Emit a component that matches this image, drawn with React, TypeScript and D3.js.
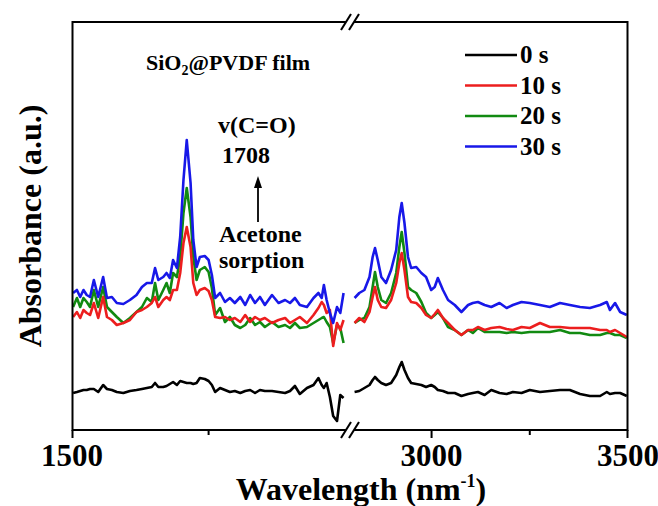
import React from "react";
import * as d3 from "d3";

// ---- data ----
const leftWavenumbers = [
  1502, 1509, 1515, 1521, 1527, 1533, 1540, 1548, 1557, 1564,
  1573, 1582, 1594, 1606, 1618, 1628, 1637, 1646, 1652, 1658,
  1667, 1673, 1679, 1685, 1692, 1698, 1704, 1710, 1717, 1722,
  1728, 1734, 1743, 1750, 1756, 1762, 1771, 1780, 1789, 1798,
  1808, 1817, 1826, 1835, 1844, 1853, 1866, 1878, 1890, 1899,
  1908, 1917, 1930, 1942, 1951, 1957, 1961, 1966, 1972, 1978,
  1985, 1991, 1997,
];
const rightWavenumbers = [
  2804, 2816, 2829, 2842, 2850, 2856, 2863, 2872, 2884, 2897,
  2910, 2918, 2924, 2931, 2940, 2948, 2961, 2974, 2986, 2999,
  3008, 3016, 3029, 3042, 3059, 3076, 3093, 3105, 3118, 3135,
  3152, 3173, 3191, 3207, 3229, 3250, 3276, 3301, 3327, 3352,
  3378, 3403, 3429, 3446, 3454, 3467, 3480, 3497,
];

const s0Left = [
  0.45, 0.46, 0.47, 0.48, 0.48, 0.49, 0.49, 0.46, 0.53, 0.49,
  0.48, 0.46, 0.45, 0.47, 0.48, 0.49, 0.50, 0.51, 0.55, 0.51,
  0.51, 0.52, 0.54, 0.56, 0.53, 0.57, 0.56, 0.55, 0.55, 0.54,
  0.55, 0.60, 0.59, 0.57, 0.53, 0.46, 0.50, 0.48, 0.46, 0.47,
  0.45, 0.47, 0.48, 0.45, 0.48, 0.47, 0.47, 0.46, 0.45, 0.47,
  0.52, 0.44, 0.50, 0.53, 0.60, 0.53, 0.50, 0.55, 0.41, 0.22,
  0.17, 0.43, 0.40,
];
const s10Left = [
  1.21, 1.26, 1.20, 1.28, 1.25, 1.23, 1.35, 1.20, 1.41, 1.21,
  1.18, 1.13, 1.15, 1.18, 1.26, 1.28, 1.31, 1.35, 1.41, 1.31,
  1.38, 1.41, 1.38, 1.48, 1.48, 1.65, 1.95, 2.11, 1.91, 1.55,
  1.43, 1.48, 1.50, 1.47, 1.38, 1.21, 1.20, 1.21, 1.18, 1.20,
  1.16, 1.23, 1.16, 1.21, 1.18, 1.20, 1.15, 1.18, 1.20, 1.15,
  1.18, 1.21, 1.15, 1.23, 1.30, 1.36, 1.33, 1.25, 1.28, 0.92,
  1.15, 1.08, 1.18,
];
const s20Left = [
  1.31, 1.40, 1.31, 1.40, 1.36, 1.31, 1.48, 1.31, 1.51, 1.31,
  1.26, 1.21, 1.15, 1.20, 1.26, 1.31, 1.40, 1.36, 1.55, 1.38,
  1.48, 1.55, 1.45, 1.65, 1.61, 1.81, 2.25, 2.50, 2.21, 1.81,
  1.58, 1.68, 1.71, 1.66, 1.50, 1.23, 1.30, 1.16, 1.21, 1.13,
  1.10, 1.13, 1.20, 1.13, 1.16, 1.11, 1.16, 1.11, 1.13, 1.10,
  1.15, 1.10, 1.11, 1.15, 1.18, 1.20, 1.21, 1.16, 1.11, 0.95,
  1.13, 1.10, 0.95,
];
const s30Left = [
  1.45, 1.48, 1.41, 1.48, 1.43, 1.41, 1.58, 1.41, 1.61, 1.40,
  1.41, 1.35, 1.34, 1.38, 1.43, 1.51, 1.55, 1.55, 1.70, 1.58,
  1.61, 1.65, 1.60, 1.78, 1.70, 2.01, 2.58, 2.98, 2.55, 1.98,
  1.71, 1.81, 1.82, 1.78, 1.63, 1.40, 1.45, 1.36, 1.40, 1.35,
  1.41, 1.33, 1.43, 1.35, 1.41, 1.33, 1.43, 1.35, 1.38, 1.35,
  1.40, 1.33, 1.31, 1.40, 1.45, 1.40, 1.53, 1.38, 1.25, 1.15,
  1.31, 1.25, 1.45,
];

const s0Right = [
  0.46, 0.47, 0.50, 0.53, 0.58, 0.61, 0.58, 0.55, 0.53, 0.55,
  0.63, 0.71, 0.76, 0.68, 0.60, 0.55, 0.54, 0.53, 0.51, 0.53,
  0.51, 0.48, 0.47, 0.45, 0.45, 0.42, 0.44, 0.45, 0.46, 0.43,
  0.48, 0.45, 0.44, 0.46, 0.45, 0.48, 0.46, 0.47, 0.48, 0.48,
  0.44, 0.42, 0.42, 0.46, 0.44, 0.45, 0.45, 0.42,
];
const s10Right = [
  1.15, 1.20, 1.16, 1.26, 1.41, 1.51, 1.38, 1.31, 1.30, 1.38,
  1.55, 1.75, 1.85, 1.68, 1.41, 1.36, 1.35, 1.30, 1.23, 1.20,
  1.24, 1.28, 1.20, 1.15, 1.08, 1.03, 1.08, 1.08, 1.11, 1.08,
  1.10, 1.11, 1.09, 1.08, 1.11, 1.10, 1.15, 1.11, 1.11, 1.10,
  1.10, 1.10, 1.08, 1.08, 1.06, 1.08, 1.05, 1.01,
];
const s20Right = [
  1.15, 1.18, 1.20, 1.31, 1.51, 1.66, 1.51, 1.38, 1.35, 1.45,
  1.65, 1.91, 2.06, 1.85, 1.51, 1.48, 1.45, 1.36, 1.25, 1.20,
  1.23, 1.26, 1.20, 1.11, 1.08, 1.03, 1.08, 1.05, 1.10, 1.06,
  1.06, 1.06, 1.05, 1.06, 1.05, 1.06, 1.06, 1.06, 1.08, 1.05,
  1.05, 1.03, 1.03, 1.05, 1.05, 1.03, 1.03, 1.00,
];
const s30Right = [
  1.40, 1.45, 1.48, 1.61, 1.81, 1.90, 1.78, 1.61, 1.55, 1.68,
  1.88, 2.21, 2.35, 2.15, 1.81, 1.70, 1.71, 1.65, 1.61, 1.48,
  1.51, 1.60, 1.48, 1.38, 1.33, 1.26, 1.33, 1.35, 1.36, 1.33,
  1.31, 1.35, 1.30, 1.33, 1.36, 1.35, 1.33, 1.31, 1.35, 1.33,
  1.31, 1.30, 1.33, 1.36, 1.28, 1.35, 1.26, 1.23,
];

const seriesNames = ["0 s", "10 s", "20 s", "30 s"];
const seriesColors = ["#000000", "#ec1e1e", "#118a11", "#1818e8"];
const leftSeries = [s0Left, s10Left, s20Left, s30Left];
const rightSeries = [s0Right, s10Right, s20Right, s30Right];
const drawOrder = [0, 2, 1, 3];

const majorTicksLeft = [1500];
const minorTicksLeft = [1750];
const majorTicksRight = [3000, 3500];
const minorTicksRight = [3250];

// ---- layout ----
const W = 658;
const H = 506;
const frameLeft = 72.5;
const frameRight = 627.5;
const frameTop = 22;
const frameBottom = 430;
const breakX = 350;

const xLeft = d3.scaleLinear().domain([1500, 2000]).range([72, 345.2]);
const xRight = d3.scaleLinear().domain([2800, 3500]).range([353, 628]);
const y = d3.scaleLinear().domain([0.08, 4.16]).range([430, 22]);

const FONT = "'Liberation Serif', 'Times New Roman', serif";

function BreakMark({ cx, cy }: { cx: number; cy: number }) {
  return (
    <g>
      <rect x={cx - 4} y={cy - 2} width={8} height={4} fill="#fff" />
      {[-4, 4].map((o) => (
        <line
          key={o}
          x1={cx + o - 5}
          y1={cy + 8}
          x2={cx + o + 5}
          y2={cy - 8}
          stroke="#000"
          strokeWidth={2}
        />
      ))}
    </g>
  );
}

export default function App() {
  const lineL = d3
    .line<number>()
    .x((_, i) => xLeft(leftWavenumbers[i]))
    .y((v) => y(v));
  const lineR = d3
    .line<number>()
    .x((_, i) => xRight(rightWavenumbers[i]))
    .y((v) => y(v));

  const legendX1 = 465;
  const legendX2 = 517;
  const legendY0 = 55;
  const legendDy = 30.5;

  return (
    <svg
      width={W}
      height={H}
      style={{ position: "absolute", left: 0, top: 0, background: "#fff" }}
      fontFamily={FONT}
      fontWeight="bold"
    >
      <rect width={W} height={H} fill="#fff" />

      {/* curves */}
      {drawOrder.map((si) => (
        <g key={si}>
          <path
            d={lineL(leftSeries[si]) || ""}
            fill="none"
            stroke={seriesColors[si]}
            strokeWidth={2.6}
            strokeLinejoin="round"
          />
          <path
            d={lineR(rightSeries[si]) || ""}
            fill="none"
            stroke={seriesColors[si]}
            strokeWidth={2.6}
            strokeLinejoin="round"
          />
        </g>
      ))}

      {/* frame */}
      <rect
        x={frameLeft}
        y={frameTop}
        width={frameRight - frameLeft}
        height={frameBottom - frameTop}
        fill="none"
        stroke="#000"
        strokeWidth={2}
      />
      <BreakMark cx={breakX} cy={frameTop} />
      <BreakMark cx={breakX} cy={frameBottom} />

      {/* ticks */}
      {majorTicksLeft.map((t) => (
        <line key={"ml" + t} x1={xLeft(t) + 0.5} x2={xLeft(t) + 0.5} y1={frameBottom} y2={frameBottom + 8} stroke="#000" strokeWidth={2} />
      ))}
      {minorTicksLeft.map((t) => (
        <line key={"nl" + t} x1={xLeft(t)} x2={xLeft(t)} y1={frameBottom} y2={frameBottom + 5} stroke="#000" strokeWidth={2} />
      ))}
      {majorTicksRight.map((t) => (
        <line key={"mr" + t} x1={Math.min(xRight(t), frameRight)} x2={Math.min(xRight(t), frameRight)} y1={frameBottom} y2={frameBottom + 8} stroke="#000" strokeWidth={2} />
      ))}
      {minorTicksRight.map((t) => (
        <line key={"nr" + t} x1={xRight(t)} x2={xRight(t)} y1={frameBottom} y2={frameBottom + 5} stroke="#000" strokeWidth={2} />
      ))}

      {/* tick labels */}
      {majorTicksLeft.map((t) => (
        <text key={"tl" + t} x={xLeft(t)} y={466} textAnchor="middle" fontSize={31}>
          {t}
        </text>
      ))}
      {majorTicksRight.map((t) => (
        <text key={"tr" + t} x={xRight(t)} y={466} textAnchor="middle" fontSize={31}>
          {t}
        </text>
      ))}

      {/* axis titles */}
      <text x={361} y={500} textAnchor="middle" fontSize={32}>
        Wavelength (nm
        <tspan fontSize={18} dy={-13}>-1</tspan>
        <tspan dy={13}>)</tspan>
      </text>
      <text
        transform={`translate(41, ${(frameTop + frameBottom) / 2}) rotate(-90)`}
        textAnchor="middle"
        fontSize={32}
      >
        Absorbance (a.u.)
      </text>

      {/* annotations */}
      <text x={146} y={70} fontSize={22}>
        SiO<tspan fontSize={14} dy={5}>2</tspan>
        <tspan dy={-5}>@PVDF film</tspan>
      </text>
      <text x={218} y={133} fontSize={24}>v(C=O)</text>
      <text x={222} y={163} fontSize={24}>1708</text>
      <line x1={258} y1={222} x2={258} y2={185} stroke="#000" strokeWidth={1.8} />
      <path d="M258,176 L254,188 L262,188 Z" fill="#000" />
      <text x={219} y={242} fontSize={24}>Acetone</text>
      <text x={219} y={268} fontSize={24}>sorption</text>

      {/* legend */}
      {seriesNames.map((n, i) => (
        <g key={n}>
          <line
            x1={legendX1}
            x2={legendX2}
            y1={legendY0 + i * legendDy}
            y2={legendY0 + i * legendDy}
            stroke={seriesColors[i]}
            strokeWidth={2.6}
          />
          <text x={520} y={legendY0 + i * legendDy + 8} fontSize={25}>
            {n}
          </text>
        </g>
      ))}
    </svg>
  );
}
